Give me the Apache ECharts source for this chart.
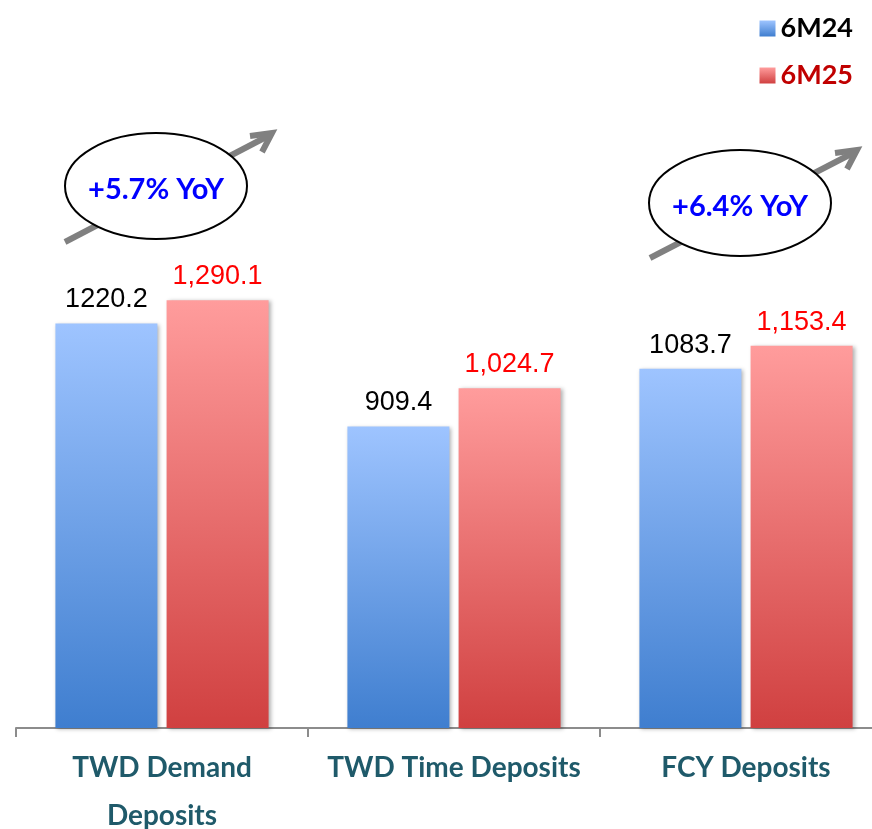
<!DOCTYPE html>
<html>
  <head>
    <meta charset="utf-8" />
    <title>Deposits</title>
    <script src="https://cdn.jsdelivr.net/npm/echarts@6/dist/echarts.min.js"></script>
    <style>
      html, body { margin: 0; padding: 0; background: #fff; }
      #box { width: 872px; height: 829px; }
    </style>
  </head>
  <body>
    <div id="box"></div>
    <script>
      // data
      var categories = ['TWD Demand\nDeposits', 'TWD Time Deposits', 'FCY Deposits'];
      var seriesNames = ['6M24', '6M25'];
      var values6M24 = [1220.2, 909.4, 1083.7];
      var values6M25 = [1290.1, 1024.7, 1153.4];
      var yoyNotes = ['+5.7% YoY', '+6.4% YoY'];

      var font = 'Lato, "Noto Sans", sans-serif';

      function grad(top, bottom) {
        return new echarts.graphic.LinearGradient(0, 0, 0, 1, [
          { offset: 0, color: top },
          { offset: 1, color: bottom }
        ]);
      }

      // ellipse with an arrow behind it
      function note(cx, cy, text, ax1, ay1, ax2, ay2, head) {
        return [
          { type: 'line', shape: { x1: ax1, y1: ay1, x2: ax2, y2: ay2 },
            style: { stroke: '#808080', lineWidth: 6 }, z: 10 },
          { type: 'polyline', shape: { points: head },
            style: { stroke: '#808080', lineWidth: 6, fill: null }, z: 10 },
          { type: 'ellipse', shape: { cx: cx, cy: cy, rx: 91, ry: 53 },
            style: { fill: '#fff', stroke: '#000', lineWidth: 2 }, z: 11 },
          { type: 'text', x: cx, y: cy + 4, z: 12,
            style: { text: text, fill: '#0000ff', font: 'bold 29px ' + font,
                     align: 'center', verticalAlign: 'middle' } }
        ];
      }

      var myEcharts = echarts.init(document.getElementById('box'));
      var option = {
        animation: false,
        legend: {
          orient: 'vertical',
          right: 14,
          top: 10,
          itemWidth: 16,
          itemHeight: 16,
          itemGap: 20,
          icon: 'rect',
          textStyle: { fontFamily: font, fontSize: 27, fontWeight: 'bold' },
          data: [
            { name: seriesNames[0], textStyle: { color: '#000' } },
            { name: seriesNames[1], textStyle: { color: '#c00000' } }
          ]
        },
        grid: { left: 16, right: -20, top: 65, bottom: 101, containLabel: false, outerBoundsMode: 'none' },
        xAxis: {
          type: 'category',
          data: categories,
          axisLine: { lineStyle: { color: '#8c8c8c', width: 2 } },
          axisTick: { show: true, length: 9, lineStyle: { color: '#8c8c8c', width: 2 } },
          axisLabel: {
            interval: 0, margin: 16, color: '#1f5a6a',
            fontFamily: font, fontSize: 28, fontWeight: 'bold', lineHeight: 48
          }
        },
        yAxis: { type: 'value', min: 0, max: 2000, show: false, splitLine: { show: false } },
        series: [
          {
            name: seriesNames[0], type: 'bar', data: values6M24,
            barWidth: 102, barGap: '9%',
            itemStyle: {
              color: grad('#9ec4ff', '#3f7ecf'),
              shadowColor: 'rgba(0,0,0,0.3)', shadowBlur: 4, shadowOffsetX: 2, shadowOffsetY: 1
            },
            label: {
              show: true, position: 'top', distance: 10, color: '#000',
              fontFamily: '"Liberation Sans", Arial, sans-serif', fontSize: 27,
              formatter: function (p) { return p.value.toFixed(1); }
            }
          },
          {
            name: seriesNames[1], type: 'bar', data: values6M25,
            barWidth: 102,
            itemStyle: {
              color: grad('#ff9c9c', '#d04040'),
              shadowColor: 'rgba(0,0,0,0.3)', shadowBlur: 4, shadowOffsetX: 2, shadowOffsetY: 1
            },
            label: {
              show: true, position: 'top', distance: 10, color: '#ff0000',
              fontFamily: '"Liberation Sans", Arial, sans-serif', fontSize: 27,
              formatter: function (p) {
                return p.value.toLocaleString('en-US', { minimumFractionDigits: 1, maximumFractionDigits: 1 });
              }
            }
          }
        ],
        graphic: note(156, 186, yoyNotes[0], 65, 242, 270, 135, [[250, 136], [272, 133], [262, 152]])
          .concat(note(740, 203, yoyNotes[1], 650, 258, 855, 152, [[835, 153], [857, 150], [847, 169]]))
      };
      myEcharts.setOption(option);
    </script>
  </body>
</html>
